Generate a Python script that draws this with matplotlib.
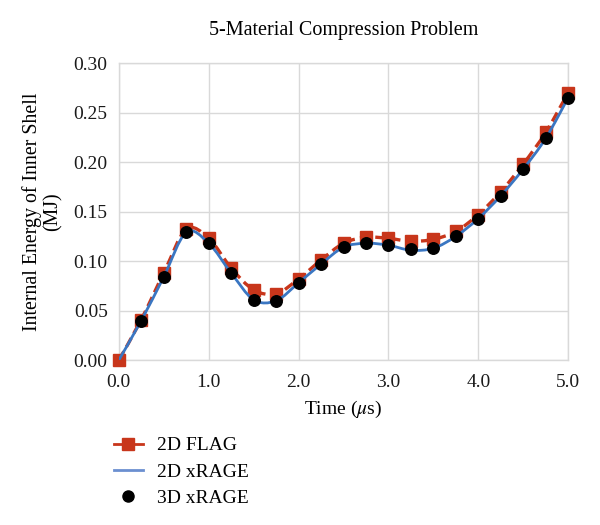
import numpy as np
import matplotlib.pyplot as plt
from matplotlib.path import Path
from matplotlib.patches import PathPatch
from matplotlib.lines import Line2D

plt.rcParams.update({"font.family": ["Liberation Serif", "DejaVu Serif"],
                     "mathtext.fontset": "stix"})

# time (microseconds)
time = [0.0, 0.25, 0.5, 0.75, 1.0, 1.25, 1.5, 1.75, 2.0, 2.25, 2.5,
        2.75, 3.0, 3.25, 3.5, 3.75, 4.0, 4.25, 4.5, 4.75, 5.0]
flag_2d = [0.000, 0.041, 0.088, 0.132, 0.123, 0.093, 0.071, 0.067, 0.082, 0.101, 0.118,
           0.124, 0.123, 0.120, 0.122, 0.130, 0.147, 0.170, 0.198, 0.230, 0.270]
xrage_2d = [0.000, 0.040, 0.084, 0.129, 0.118, 0.088, 0.061, 0.060, 0.078, 0.097, 0.114,
            0.118, 0.116, 0.111, 0.113, 0.125, 0.143, 0.166, 0.193, 0.224, 0.265]
# 3D run: no point visible at t = 0
time_3d = time[1:]
xrage_3d = [0.040, 0.084, 0.129, 0.118, 0.088, 0.061, 0.060, 0.078, 0.097, 0.114,
            0.118, 0.116, 0.112, 0.113, 0.125, 0.143, 0.166, 0.193, 0.224, 0.265]

RED = "#c8361b"
BLUE = "#3a76c2"
FS = 14


def smooth_path(x, y):
    # Excel-style smoothed line: cubic bezier through each point
    x = np.asarray(x, float)
    y = np.asarray(y, float)
    pts = np.column_stack([x, y])
    verts = [pts[0]]
    codes = [Path.MOVETO]
    n = len(pts)
    for i in range(n - 1):
        p0 = pts[max(i - 1, 0)]
        p1 = pts[i]
        p2 = pts[i + 1]
        p3 = pts[min(i + 2, n - 1)]
        c1 = p1 + (p2 - p0) / 6.0
        c2 = p2 - (p3 - p1) / 6.0
        verts += [c1, c2, p2]
        codes += [Path.CURVE4] * 3
    return Path(verts, codes)


fig = plt.figure(figsize=(6, 5.25), dpi=100)
ax = fig.add_axes([0.198, 0.314, 0.749, 0.566])

ax.add_patch(PathPatch(smooth_path(time, flag_2d), fill=False, edgecolor=RED,
                       lw=2.4, linestyle=(0, (3, 1.6)), zorder=3))
ax.plot(time, flag_2d, "s", color=RED, ms=8, zorder=4, clip_on=False)
ax.add_patch(PathPatch(smooth_path(time, xrage_2d), fill=False, edgecolor=BLUE,
                       lw=2.0, zorder=5))
ax.plot(time_3d, xrage_3d, "o", color="black", ms=8.3, zorder=6, clip_on=False)

ax.set_xlim(0, 5)
ax.set_ylim(0, 0.30)
ax.set_xticks(np.arange(0, 5.01, 1.0))
ax.set_yticks(np.arange(0, 0.301, 0.05))
ax.set_xticklabels([f"{v:.1f}" for v in np.arange(0, 5.01, 1.0)])
ax.set_yticklabels([f"{v:.2f}" for v in np.arange(0, 0.301, 0.05)])
ax.tick_params(length=0, labelsize=FS, colors="#1a1a1a")
ax.tick_params(axis="x", pad=10)
ax.tick_params(axis="y", pad=8)
ax.grid(True, color="#d9d9d9", lw=1.0)
ax.set_axisbelow(True)
for s in ax.spines.values():
    s.set_color("#d9d9d9")
    s.set_linewidth(1.0)

ax.set_title("5-Material Compression Problem", fontsize=14.5, pad=20)
ax.set_xlabel(r"Time ($\mu$s)", fontsize=FS, labelpad=6)
ax.set_ylabel("Internal Energy of Inner Shell\n(MJ)", fontsize=14.3, labelpad=8,
              linespacing=1.1)

handles = [
    Line2D([], [], color=RED, lw=2, marker="s", ms=8),
    Line2D([], [], color="#6b8fd0", lw=2),
    Line2D([], [], color="black", lw=0, marker="o", ms=8),
]
fig.legend(handles, ["2D FLAG", "2D xRAGE", "3D xRAGE"], loc="upper left",
           bbox_to_anchor=(0.167, 0.194), frameon=False, fontsize=FS,
           handlelength=1.5, handletextpad=0.7, labelspacing=0.45,
           borderpad=0.2)

fig.savefig("out.png", dpi=100)
